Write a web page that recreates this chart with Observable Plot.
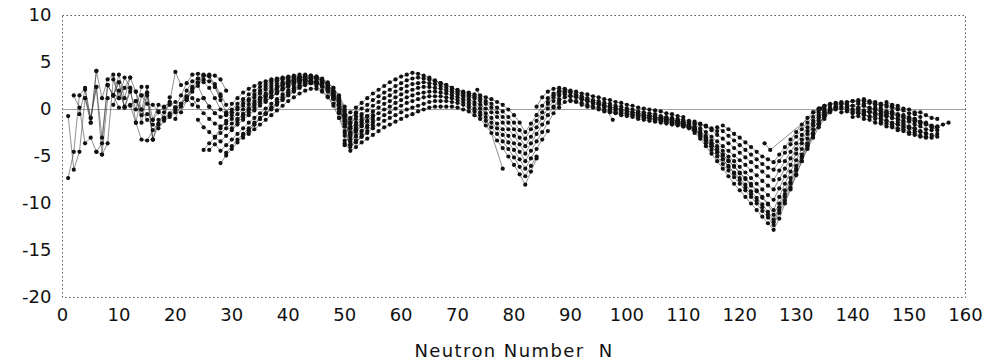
<!DOCTYPE html>
<html><head><meta charset="utf-8">
<script src="https://cdn.jsdelivr.net/npm/d3@7"></script>
<script src="https://cdn.jsdelivr.net/npm/@observablehq/plot@0.6"></script>
<style>
body{margin:0;background:#fff;}
#chart{width:988px;height:362px;}
</style></head><body><div id="chart"></div>
<script>
// Tick labels
const xTicks = [0,10,20,30,40,50,60,70,80,90,100,110,120,130,140,150,160];
const yTicks = [-20,-15,-10,-5,0,5,10];
const xLabel = "Neutron Number\u00a0\u00a0N";

// Each chain: [first N, values at N, N+1, N+2, ...]
const lightChains = [
  [1, [-0.7,-6.4,-4.5,1.2,-1.4,4.1]],
  [1, [-7.3,-4.5,1.5,2.3,-0.9,2.4,-4.8,1.2]],
  [2, [1.5,0.2,-3.6,-3.0,-4.5,-3.6,2.6,1.5,0.2]],
  [3, [-0.5,2.1,-1.4,4.1,1.2,3.2,3.7,1.2,2.3,3.4]],
  [4, [1.2,-0.9,2.4,-3.0,2.6,1.5,2.9,0.2,1.9,0.0,2.4]],
  [6, [-4.5,-4.8,-3.6,3.2,1.2,3.4,2.3,-1.4,1.5,1.8,-3.2]],
  [8, [2.6,1.5,3.7,1.2,3.4,1.9,0.0,2.4,-3.2,-1.1,-0.9,1.3]],
  [9, [1.5,2.9,0.2,2.3,1.9,-1.4,1.5,-3.2,-1.6,-0.3,0.5,0.8]],
  [9, [0.5,2.0,0.3,0.5,0.9,-0.6,1.8,-1.1,0.5,0.2,0.8,4.0,2.6]]
];

const sdChains = [
  [12, [0.4,-1.4,-3.2,-3.3,-2.2,-1.5,-1.0,-0.6,-0.1,0.5,1.3,2.4,3.3,3.6,3.5,2.7,1.6,0.5]],
  [13, [0.9,0.0,-1.1,-1.6,-2.0,-1.2,-0.8,-0.3,0.3,1.0,1.9,2.8,3.2,3.0,2.4,1.4]],
  [14, [1.5,0.6,0.5,-0.2,-0.9,-0.4,0.2,0.6,1.4,2.2,2.9,3.6,3.7,3.6,3.2,2.0]],
  [15, [-0.5,-1.1,-0.3,0.3,0.8,0.2,0.6,1.2,0.5,1.0,1.2,0.3,-0.4]]
];

const fpChains = [
  [20, [0.2,1.5,2.8,3.7,3.8,3.7,3.6,2.4,1.0,-0.3, 0.6,1.2,1.8,2.2,2.5,2.8,3.0,3.2,3.3,3.4, 3.5,3.6,3.7,3.7,3.6,3.4,3.1,2.6,1.8]],
  [20, [-1.0,0.6,2.0,3.0,3.3,2.9,2.3,1.2,0.0,-0.5, 0.0,0.6,1.1,1.6,2.0,2.4,2.7,3.0,3.2,3.3, 3.4,3.5,3.5,3.4,3.3,3.0,2.6,2.0,1.2]],
  [21, [-0.3,1.0,2.2,2.5,1.2,0.3,-0.4,-0.8,-0.6,-0.3, 0.2,0.7,1.1,1.6,2.0,2.4,2.7,3.0,3.2,3.3, 3.4,3.3,3.1,2.8,2.5,2.0,1.4,0.6,-0.4,-1.6, -1.0,-0.3]],
  [23, [1.2,0.3,-0.4,-1.0,-1.5,-1.8,-1.5,-1.0,-0.5,0.0, 0.5,0.9,1.3,1.7,2.1,2.4,2.7,2.9,3.1,3.2, 3.2,3.1,2.9,2.6,2.1,1.4,0.5,-0.6,-2.0,-1.4, -0.8]],
  [24, [-1.1,-1.9,-2.4,-2.9,-2.5,-2.0,-1.5,-1.0,-0.5,0.0, 0.5,1.0,1.4,1.8,2.2,2.5,2.8,3.0,3.1,3.1, 3.0,2.8,2.4,1.9,1.1,0.1,-1.2,-2.6,-2.0,-1.4, -0.8]],
  [25, [-4.3,-3.6,-3.0,-3.4,-2.8,-2.2,-1.6,-1.1,-0.6,-0.1, 0.4,0.9,1.3,1.7,2.1,2.4,2.7,2.9,3.0,3.0, 2.8,2.5,2.0,1.3,0.4,-1.5,-2.9,-2.4,-1.8,-1.2, -0.6]],
  [26, [-4.3,-3.7,-4.4,-3.8,-3.2,-2.6,-2.0,-1.4,-0.9,-0.4, 0.1,0.6,1.1,1.6,2.0,2.4,2.7,2.9,3.0,2.9, 2.7,2.3,1.7,0.8,-1.0,-3.4,-2.9,-2.3,-1.7,-1.1]],
  [28, [-5.7,-4.9,-4.2,-3.5,-2.8,-2.2,-1.6,-1.0,-0.5,0.0, 0.5,1.0,1.5,1.9,2.3,2.6,2.8,2.8,2.6,2.2, 1.5,0.5,-1.8,-4.0,-3.5,-2.9,-2.3,-1.7]],
  [29, [-4.6,-3.9,-3.2,-2.6,-2.0,-1.4,-0.9,-0.4,0.1,0.6, 1.1,1.6,2.0,2.4,2.7,2.9,3.0,2.9,2.6,2.0, 1.1,-0.2,-1.5,-0.7]],
  [27, [-2.9,-2.0,-1.2,-0.6,0.0,0.4,0.9,1.3,1.7,2.1, 2.4,2.7,2.9,3.1,3.3,3.4,3.5,3.4,3.3,3.1, 2.8,2.3,1.5,0.3]],
  [32, [-3.0,-2.3,-1.6,-1.0,-0.4,0.2,0.8,1.3,1.8,2.2, 2.5,2.7,2.8,2.8,2.6,2.2,1.6,0.8,-0.6,-2.4, -1.9,-1.3,-0.7]],
  [30, [-2.0,-1.4,-0.8,-0.3,0.2,0.7,1.1,1.5,1.9,2.2, 2.5,2.8,3.0,3.2,3.3,3.3,3.0,2.6,1.9,0.9, -0.5,-1.8]],
  [31, [-1.1,-0.5,0.1,0.6,1.1,1.5,1.9,2.3,2.6,2.9, 3.1,3.3,3.4,3.5,3.5,3.3,2.9,2.3,1.3,0.0, -1.4]],
  [33, [-2.6,-2.1,-1.6,-1.1,-0.6,-0.1,0.4,0.9,1.3,1.7, 2.0,2.2,2.2,1.9,1.3,0.4,-0.9,-2.5,-3.8,-3.3, -2.7]],
  [36, [0.8,1.3,1.8,2.2,2.6,2.9,3.1,3.3,3.4,3.3, 3.0,2.5,1.7,0.5,-1.2,-2.8,-2.2]],
  [38, [2.4,2.7,3.0,3.2,3.4,3.6,3.6,3.5,3.2,2.7,1.9,0.8,-0.6]]
];

const midChains = [
  [49, [0.6,-0.8,-0.3,0.2,0.7,1.2,1.7,2.1,2.5,2.9, 3.2,3.5,3.7,3.9,3.8,3.6,3.4,3.1,2.8,2.6, 2.3,2.1,1.9,1.8,1.6,1.5,1.3,1.1,0.8,0.5, 0.0,-0.6,-1.4,-2.4,-1.5,-0.6,0.4,1.2,1.7,2.0, 2.1,1.9]],
  [48, [1.2,-0.2,-1.3,-0.9,-0.4,0.1,0.5,1.0,1.4,1.8, 2.1,2.5,2.8,3.1,3.3,3.4,3.3,3.2,3.0,2.8, 2.6,2.3,2.0,1.8,1.6,1.4,1.2,0.9,0.6,0.2, -0.2,-0.8,-1.4,-2.2,-3.1,-2.1,-1.2,-0.3,0.6,1.3, 1.8]],
  [49, [-0.9,-1.8,-1.4,-1.0,-0.5,-0.1,0.4,0.8,1.2,1.5, 1.9,2.2,2.5,2.7,2.8,2.9,2.8,2.7,2.5,2.3, 2.0,1.8,1.6,1.4,1.2,0.9,0.6,0.2,-0.3,-0.8, -1.4,-2.1,-3.0,-3.9,-2.9,-1.9,-0.9,0.1,0.9,1.5, 1.8]],
  [50, [-2.3,-2.0,-1.6,-1.1,-0.7,-0.2,0.2,0.6,0.9,1.3, 1.6,1.9,2.1,2.3,2.4,2.4,2.3,2.2,2.0,1.8, 1.6,1.4,1.1,0.8,0.5,0.1,-0.3,-0.8,-1.4,-2.1, -2.8,-3.7,-4.7,-3.6,-2.6,-1.6,-0.6,0.3,1.1]],
  [50, [-2.8,-2.6,-2.2,-1.7,-1.3,-0.8,-0.4,0.0,0.3,0.7, 1.0,1.3,1.5,1.7,1.8,1.9,1.9,1.8,1.7,1.5, 1.3,1.1,0.8,0.5,0.1,-0.4,-0.9,-1.5,-2.1,-2.8, -3.6,-4.5,-5.5,-4.4,-3.4,-2.4,-1.4,-0.4,0.6]],
  [50, [-3.3,-3.2,-2.8,-2.3,-1.9,-1.4,-1.0,-0.6,-0.3,0.1, 0.4,0.7,0.9,1.1,1.3,1.4,1.4,1.4,1.3,1.2, 1.0,0.8,0.5,0.1,-0.3,-0.8,-1.4,-2.0,-2.7,-3.5, -4.3,-5.3,-6.3,-5.2,-4.2,-3.2,-2.3]],
  [50, [-3.8,-3.7,-3.4,-2.9,-2.5,-2.0,-1.6,-1.2,-0.9,-0.6, -0.3,0.0,0.2,0.4,0.6,0.8,0.9,0.9,0.9,0.8, 0.7,0.5,0.2,-0.2,-0.6,-1.2,-1.9,-2.6,-3.4,-4.2, -5.1,-6.1,-7.1,-6.0,-5.0]],
  [50, [-3.6,-4.4,-4.0,-3.5,-3.1,-2.7,-2.3,-1.9,-1.6,-1.3, -1.0,-0.7,-0.5,-0.2,0.0,0.2,0.3,0.3,0.3,0.3, 0.2,0.0,-0.2,-0.6,-1.0,-1.7,-2.5,-3.3,-4.1,-5.0, -5.9,-6.9,-8.0,-6.6,-5.2]]
];

const rareEarthChains = [
  [84, [0.3,1.3,1.9,2.2,2.3,2.2,2.0,1.9,1.7,1.6, 1.4,1.3,1.1,1.0,0.8,0.7,0.5,0.4,0.2,0.1, 0.0,-0.1,-0.2,-0.4,-0.5,-0.7,-0.8]],
  [86, [0.8,1.5,1.9,1.9,1.8,1.6,1.4,1.2,1.0,0.9, 0.7,0.6,0.4,0.3,0.1,0.0,-0.2,-0.3,-0.4,-0.5, -0.7,-0.8,-0.9,-1.0,-1.1,-1.2,-1.3,-1.5,-1.7]],
  [87, [0.2,0.9,1.3,1.4,1.3,1.1,0.9,0.8,0.6,0.4, 0.3,0.1,0.0,-0.2,-0.3,-0.4,-0.6,-0.7,-0.8,-0.9, -1.0,-1.1,-1.2,-1.3,-1.4,-1.5,-1.6,-1.8,-2.0,-2.3]],
  [88, [0.2,0.8,1.0,0.9,0.7,0.5,0.3,0.2,0.0,-0.1, -0.3,-0.4,-0.5,-0.6,-0.8,-0.9,-1.0,-1.1,-1.2,-1.3, -1.4,-1.5,-1.6,-1.7,-1.9]],
  [90, [0.9,0.8,0.5,0.3,0.2,0.0,-0.2,-0.3,-0.4,-0.6, -0.7,-0.8,-1.0,-1.1,-1.2,-1.3,-1.4,-1.5,-1.6,-1.7, -1.8,-1.9,-2.0]],
  [89, [1.6,1.5,1.4,1.2,1.0,0.8,0.7,0.5,0.3,0.2, 0.0,-0.1,-0.3,-0.4,-0.5,-0.7,-0.8,-0.9,-1.0,-1.1, -1.2]],
  [92, [1.1,0.9,0.6,0.5,0.3,0.1,-0.1,-0.2,-0.4,-0.5, -0.6,-0.8,-0.9,-1.0,-1.1,-1.3,-1.4,-1.5,-1.6]]
];

const leadChains = [
  [117, [-1.7,-2.1,-2.6,-3.0,-3.5,-4.0,-4.5,-5.0,-5.3,-5.6, -4.8,-4.0,-3.2,-2.4,-1.6,-0.9,-0.3,0.1,0.4]],
  [116, [-1.9,-2.3,-2.8,-3.3,-3.8,-4.3,-4.8,-5.3,-5.8,-6.2, -6.4,-5.5,-4.6,-3.7,-2.9,-2.1,-1.4,-0.8,-0.3,0.1]],
  [114, [-1.8,-2.2,-2.7,-3.1,-3.6,-4.1,-4.6,-5.1,-5.6,-6.1, -6.6,-7.1,-7.5,-6.5,-5.5,-4.5,-3.6,-2.7,-1.9,-1.2, -0.6,-0.1]],
  [112, [-1.6,-2.0,-2.4,-2.9,-3.4,-3.9,-4.4,-4.9,-5.4,-5.9, -6.5,-7.0,-7.6,-8.1,-8.5,-7.4,-6.3,-5.2,-4.2,-3.2, -2.3,-1.5,-0.8,-0.2,0.2]],
  [110, [-1.2,-1.5,-1.9,-2.3,-2.8,-3.3,-3.9,-4.4,-5.0,-5.5, -6.1,-6.7,-7.3,-7.9,-8.5,-9.1,-9.6,-8.4,-7.1,-5.9, -4.7,-3.6,-2.6,-1.7,-0.9,-0.3,0.1]],
  [108, [-1.0,-1.2,-1.4,-1.7,-2.1,-2.5,-3.0,-3.6,-4.2,-4.8, -5.4,-6.0,-6.7,-7.3,-7.9,-8.6,-9.3,-10.0,-10.7,-9.3, -7.9,-6.6,-5.4,-4.2,-3.1,-2.1,-1.2,-0.5,0.0]],
  [106, [-0.8,-0.9,-1.1,-1.3,-1.5,-1.8,-2.2,-2.7,-3.3,-3.9, -4.6,-5.3,-6.0,-6.7,-7.3,-8.0,-8.7,-9.4,-10.1,-10.9, -11.7,-10.4,-9.0,-7.7,-6.3,-5.0,-3.8,-2.6,-1.6,-0.8, -0.2,0.2]],
  [104, [-0.6,-0.8,-0.9,-1.1,-1.2,-1.4,-1.6,-1.9,-2.3,-2.9, -3.6,-4.3,-5.0,-5.8,-6.5,-7.2,-7.9,-8.6,-9.3,-10.0, -10.8,-11.5,-12.3,-11.0,-9.7,-8.3,-6.9,-5.5,-4.2,-3.0, -1.9,-1.0,-0.3,0.2]],
  [102, [-0.6,-0.7,-0.9,-1.0,-1.2,-1.3,-1.5,-1.6,-1.8,-2.0, -2.5,-3.1,-3.9,-4.7,-5.5,-6.3,-7.1,-7.9,-8.6,-9.3, -10.0,-10.7,-11.4,-12.1,-12.8,-11.6,-10.0,-8.5,-7.0,-5.5, -4.0,-2.7,-1.6,-0.7,-0.1,0.3]],
  [109, [-1.3,-1.5,-1.8,-2.2,-2.6,-3.1,-3.7,-4.3,-4.9,-5.5, -6.1,-6.8,-7.4,-8.1,-8.7,-9.4,-10.1,-11.2,-10.0,-8.6, -7.3,-6.0,-4.8,-3.6,-2.5,-1.5,-0.7,-0.1]],
  [105, [-0.9,-1.0,-1.1,-1.3,-1.4,-1.6,-1.8,-2.1,-2.6,-3.2, -3.9,-4.6,-5.3,-6.1,-6.8,-7.5,-8.3,-9.0,-9.7,-10.4, -11.2,-12.0,-10.7,-9.3,-7.9,-6.5,-5.1,-3.8,-2.6,-1.5, -0.7,-0.1]]
];

const actinideChains = [
  [134, [0.1,0.4,0.6,0.7,0.8,0.8,0.9,1.0,0.9,0.8,0.6,0.4]],
  [133, [-0.3,0.0,0.3,0.5,0.6,0.6,0.5,0.4,0.6,0.4,0.2,0.0,-0.2,-0.4,-0.5]],
  [136, [-0.1,0.2,0.3,0.2,0.0,0.1,-0.1,-0.3,-0.5,-0.4,-0.6,-0.9,-1.0,-1.2]],
  [138, [-0.3,-0.2,-0.4,-0.3,-0.6,-0.7,-1.0,-0.9,-1.2,-1.4,-1.6,-1.7,-1.9,-2.0]],
  [140, [-0.8,-0.7,-1.0,-1.1,-1.4,-1.5,-1.8,-1.9,-2.2,-2.3,-2.6,-2.7,-2.9,-3.0]],
  [142, [0.6,0.7,0.5,0.6,0.3,0.2,0.0,-0.1,-0.4,-0.5,-0.8]],
  [143, [-0.2,-0.3,-0.6,-0.6,-0.9,-1.0,-1.3,-1.3,-1.6,-1.8,-2.1,-2.2,-1.8,-1.6,-1.4]],
  [145, [-1.3,-1.5,-1.7,-2.0,-2.1,-2.4,-2.5,-2.8,-2.9,-3.0,-2.6]],
  [146, [0.8,0.5,0.4,0.1,0.0,-0.3,-0.3,-0.6,-0.9,-1.0]],
  [147, [-0.3,-0.6,-0.8,-1.0,-1.2,-1.5,-1.6,-1.9,-2.2]],
  [135, [-0.5,-0.2,0.0,0.1,0.0,-0.2,-0.1,-0.3,-0.2,-0.5,-0.7,-0.8]],
  [137, [0.4,0.6,0.7,0.9,0.8,1.1,0.9,0.8,0.6,0.5,0.3,0.1]],
  [139, [0.3,0.4,0.2,0.4,0.1,0.0,-0.2,-0.3,-0.5,-0.7,-0.9,-1.1,-1.3]],
  [141, [-0.4,-0.5,-0.8,-0.7,-1.1,-1.2,-1.5,-1.6,-1.9,-2.0,-2.3,-2.4,-2.6]],
  [144, [0.2,0.1,-0.2,-0.2,-0.5,-0.6,-0.9,-1.0,-1.3,-1.5,-1.8,-1.9]],
  [148, [-1.3,-1.5,-1.8,-2.0,-2.3,-2.5,-2.7,-2.9]],
  [150, [-0.8,-1.0,-1.3,-1.4,-1.7,-1.9]]
];

// Chains with missing isotopes: explicit [N, value] pairs
const gapChains = [
  [[73.5, 2.1], [78, -6.3]],
  [[124.4, -3.6], [125.4, -4.3], [134.3, 0.1]],
  [[96, 0.3], [97.5, -1.1]]
];

const rows = [];
function addChains(family, chains) {
  chains.forEach(([start, vals], i) =>
    vals.forEach((v, j) => rows.push({id: family + i, N: start + j, v})));
}
addChains("l", lightChains);
addChains("s", sdChains);
addChains("f", fpChains);
addChains("m", midChains);
addChains("r", rareEarthChains);
addChains("p", leadChains);
addChains("a", actinideChains);
gapChains.forEach((pts, i) => pts.forEach(([N, v]) => rows.push({id: "g" + i, N, v})));

const plot = Plot.plot({
  width: 988,
  height: 362,
  marginLeft: 62,
  marginRight: 23,
  marginTop: 15,
  marginBottom: 65,
  style: {fontFamily: "DejaVu Sans", fontSize: "18px", color: "#111", background: "#fff"},
  x: {domain: [0, 160]},
  y: {domain: [-20, 10]},
  marks: [
    Plot.frame({stroke: "#555", strokeDasharray: "1.5,2.5", strokeWidth: 1}),
    Plot.ruleY([0], {stroke: "#888", strokeWidth: 0.8}),
    Plot.line(rows, {x: "N", y: "v", z: "id", stroke: "#444", strokeWidth: 0.6}),
    Plot.dot(rows, {x: "N", y: "v", r: 2.1, fill: "#111", stroke: "none"}),
    Plot.axisX({ticks: xTicks, tickSize: 0, tickPadding: 11, tickFormat: d => String(d), label: null}),
    Plot.axisY({ticks: yTicks, tickSize: 0, tickPadding: 11, tickFormat: d => String(d), label: null}),
    Plot.text([xLabel], {frameAnchor: "bottom", dy: 54, fontSize: 18, fill: "#111", lineAnchor: "middle"})
  ]
});
d3.select(plot).selectAll("text")
  .filter(function() { return this.textContent === xLabel; })
  .style("letter-spacing", "1.4px");
document.getElementById("chart").appendChild(plot);
</script>
</body></html>
